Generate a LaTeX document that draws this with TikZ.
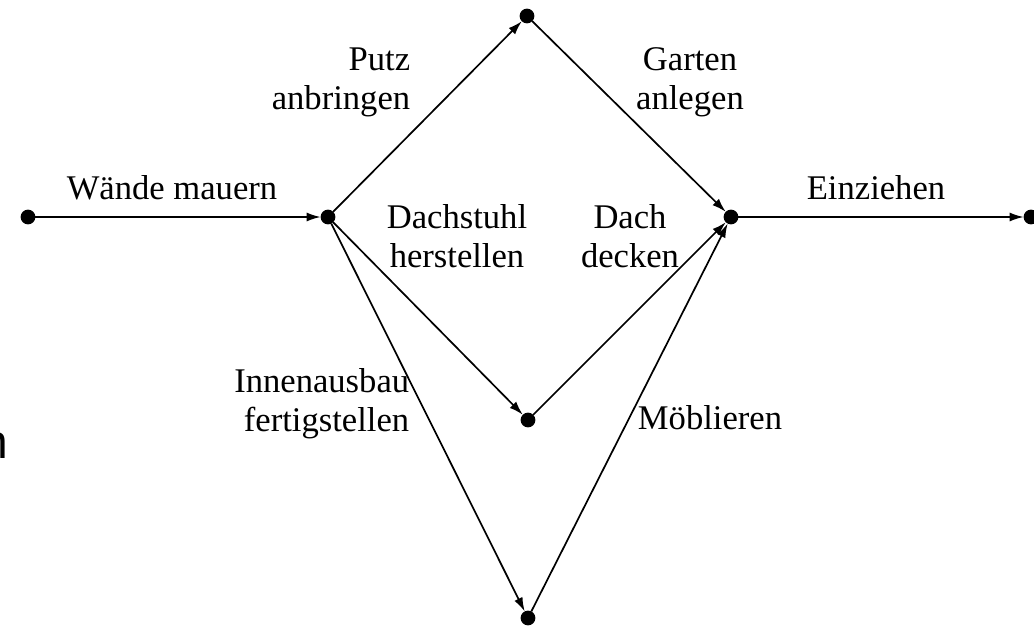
\documentclass[tikz,border=0pt]{standalone}
\usepackage{fontspec}
\setmainfont{Liberation Serif}
\newfontfamily\cutfont{Liberation Sans}
\usetikzlibrary{arrows.meta,positioning}

\begin{document}
\begin{tikzpicture}[x=0.5pt, y=-0.5pt,
    event/.style={circle, fill, draw, minimum width=6.5pt, inner sep=0pt},
    job/.style={font=\fontsize{17.3}{19.5}\selectfont, inner sep=0pt},
    every path/.style={line width=0.85pt},
    >={Latex[length=7pt,width=4.5pt]}]
  \useasboundingbox (0,0) rectangle (1034,627);
  \node [event] (e1) at (28,217) {};
  \node [event] (e2) at (328,217) {};
  \node [event] (e3) at (527,16) {};
  \node [event] (e4) at (528,420) {};
  \node [event] (e5) at (528,618) {};
  \node [event] (e6) at (731,217) {};
  \node [event] (e7) at (1031,217) {};
  \draw [->] (e1) -- (e2);
  \draw [->] (e2) -- (e3);
  \draw [->] (e2) -- (e4);
  \draw [->] (e2) -- (e5);
  \draw [->] (e3) -- (e6);
  \draw [->] (e4) -- (e6);
  \draw [->] (e5) -- (e6);
  \draw [->] (e6) -- (e7);
  % labels of the activities
  \node [job] (waende) at (172,188) {Wände mauern};
  \node [job, align=right, anchor=east] (putz) at (411,82) {Putz\\anbringen};
  \node [job, align=center] (garten) at (690,82) {Garten\\anlegen};
  \node [job, align=center] (dachstuhl) at (457,236) {Dachstuhl\\herstellen};
  \node [job, align=center] (dach) at (630,236) {Dach\\decken};
  \node [job, align=right, anchor=east] (innen) at (410,404) {Innenausbau\\fertigstellen};
  \node [job] (moebel) at (710,418) {Möblieren};
  \node [job] (einzug) at (876,188) {Einziehen};
  \node [font=\cutfont\fontsize{24}{24}\selectfont, inner sep=0pt, anchor=east] (rest) at (9,446) {n};
\end{tikzpicture}
\end{document}
